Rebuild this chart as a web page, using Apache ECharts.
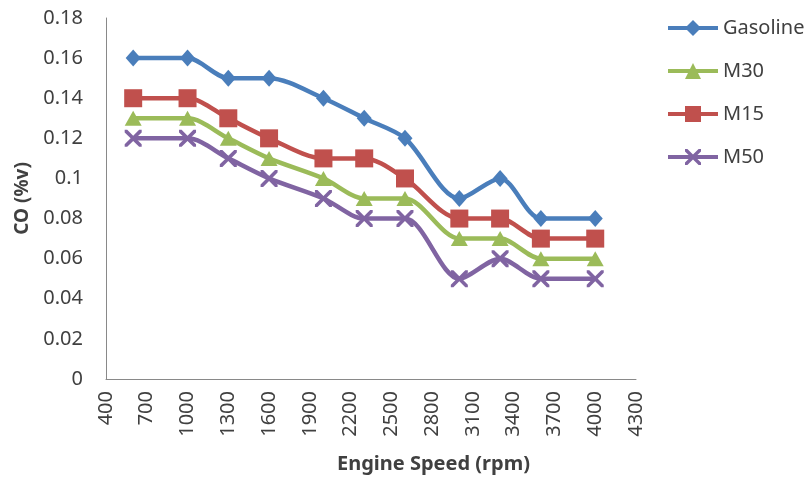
<!DOCTYPE html>
<html>
<head>
<meta charset="utf-8">
<script src="https://cdn.jsdelivr.net/npm/echarts@6/dist/echarts.min.js"></script>
<style>html,body{margin:0;padding:0;background:#fff}#c{width:809px;height:482px}</style>
</head>
<body>
<div id="c"></div>
<script>
const speeds = [600, 1000, 1300, 1600, 2000, 2300, 2600, 3000, 3300, 3600, 4000];
const gasoline = [0.16, 0.16, 0.15, 0.15, 0.14, 0.13, 0.12, 0.09, 0.10, 0.08, 0.08];
const m30 = [0.13, 0.13, 0.12, 0.11, 0.10, 0.09, 0.09, 0.07, 0.07, 0.06, 0.06];
const m15 = [0.14, 0.14, 0.13, 0.12, 0.11, 0.11, 0.10, 0.08, 0.08, 0.07, 0.07];
const m50 = [0.12, 0.12, 0.11, 0.10, 0.09, 0.08, 0.08, 0.05, 0.06, 0.05, 0.05];
const xTickLabels = ['400','700','1000','1300','1600','1900','2200','2500','2800','3100','3400','3700','4000','4300'];
const seriesNames = ['Gasoline', 'M30', 'M15', 'M50'];

const FONT = 'Noto Sans';
const xPath = 'path://M0,0 L3,0 L10,7 L17,0 L20,0 L20,3 L13,10 L20,17 L20,20 L17,20 L10,13 L3,20 L0,20 L0,17 L7,10 L0,3 Z';

function pairs(vals) { return speeds.map((s, i) => [s, vals[i]]); }

function mk(name, vals, color, symbol, size) {
  return {
    name: name, type: 'line', data: pairs(vals), smooth: 0.3,
    xAxisIndex: 0, yAxisIndex: 0,
    symbol: symbol, symbolSize: size,
    lineStyle: { color: color, width: 4.5 },
    itemStyle: { color: color },
    emphasis: { disabled: true },
    z: 3
  };
}

const chart = echarts.init(document.getElementById('c'), null, { renderer: 'canvas' });
chart.setOption({
  animation: false,
  backgroundColor: '#fff',
  textStyle: { fontFamily: FONT },
  grid: { left: 106, right: 173, top: 18, bottom: 103, containLabel: false },
  legend: {
    data: seriesNames,
    orient: 'vertical', left: 666, top: 18, padding: 0,
    itemWidth: 50, itemHeight: 20, itemGap: 23,
    lineStyle: { width: 4 },
    textStyle: { fontFamily: FONT, fontSize: 20, color: '#404040', lineHeight: 20 }
  },
  title: {
    text: 'Engine Speed (rpm)', left: 337, top: 454, padding: 0,
    textStyle: { fontFamily: FONT, fontSize: 20, fontWeight: 'bold', color: '#404040' }
  },
  xAxis: [
    {
      type: 'value', min: 400, max: 4300,
      axisLine: { show: true, lineStyle: { color: '#898989', width: 1 } },
      axisTick: { show: false }, axisLabel: { show: false }, splitLine: { show: false }
    },
    {
      type: 'category', data: xTickLabels, boundaryGap: false, position: 'bottom',
      axisLine: { show: false }, axisTick: { show: false }, splitLine: { show: false },
      axisLabel: { interval: 0, rotate: 90, margin: 12, fontFamily: FONT, fontSize: 20, color: '#404040' }
    }
  ],
  yAxis: {
    type: 'value', min: 0, max: 0.18, interval: 0.02,
    name: 'CO (%v)', nameLocation: 'middle', nameGap: 74,
    nameTextStyle: { fontFamily: FONT, fontSize: 19, fontWeight: 'bold', color: '#404040' },
    axisLine: { show: true, lineStyle: { color: '#898989', width: 1 } },
    axisTick: { show: false }, splitLine: { show: false },
    axisLabel: { margin: 23, fontFamily: FONT, fontSize: 20, color: '#404040' }
  },
  series: [
    mk('Gasoline', gasoline, '#4A7EBB', 'diamond', [15, 17]),
    mk('M30', m30, '#9BBB59', 'triangle', [17, 15]),
    mk('M15', m15, '#C0504D', 'rect', 18),
    mk('M50', m50, '#8064A2', xPath, 17)
  ]
});
</script>
</body>
</html>
